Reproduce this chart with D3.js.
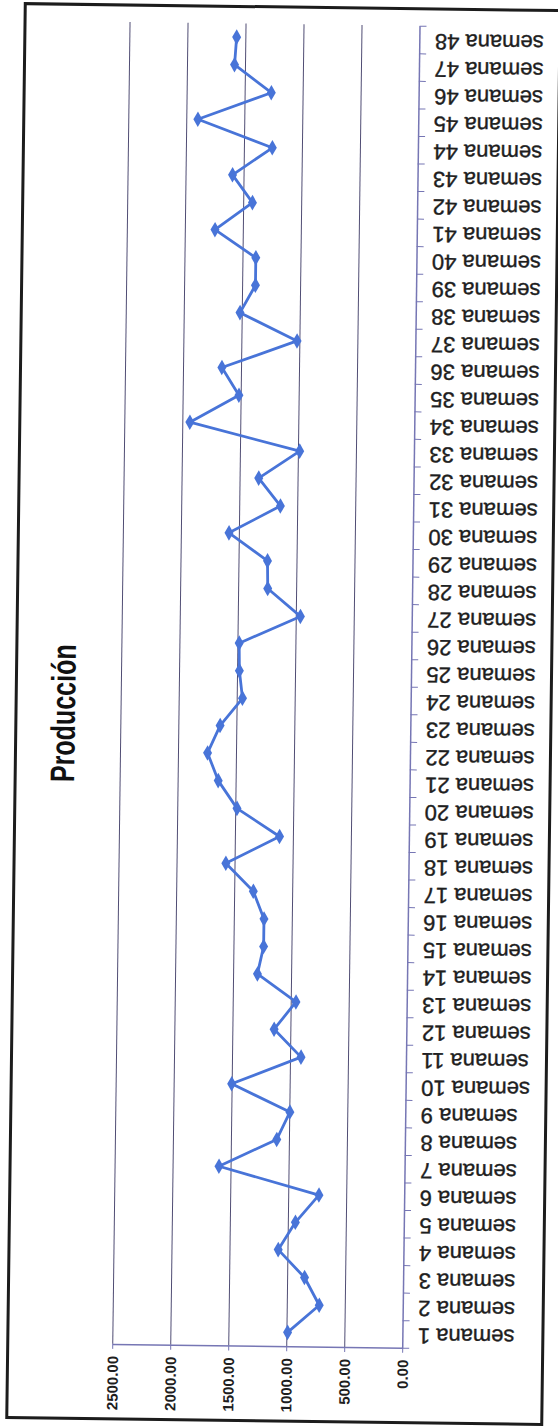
<!DOCTYPE html>
<html>
<head>
<meta charset="utf-8">
<script src="https://cdn.jsdelivr.net/npm/d3@7"></script>
<style>
  body { margin: 0; background: #fff; }
</style>
</head>
<body>
<div id="container"></div>
<script>
/* DATA */
const weeks = [
  "semana 1", "semana 2", "semana 3", "semana 4", "semana 5", "semana 6",
  "semana 7", "semana 8", "semana 9", "semana 10", "semana 11", "semana 12",
  "semana 13", "semana 14", "semana 15", "semana 16", "semana 17", "semana 18",
  "semana 19", "semana 20", "semana 21", "semana 22", "semana 23", "semana 24",
  "semana 25", "semana 26", "semana 27", "semana 28", "semana 29", "semana 30",
  "semana 31", "semana 32", "semana 33", "semana 34", "semana 35", "semana 36",
  "semana 37", "semana 38", "semana 39", "semana 40", "semana 41", "semana 42",
  "semana 43", "semana 44", "semana 45", "semana 46", "semana 47", "semana 48"
];
const production = [
  990, 720, 850, 1080, 935, 735, 1600, 1105, 995, 1500, 905, 1140,
  955, 1290, 1240, 1240, 1335, 1575, 1115, 1485, 1650, 1745, 1640, 1450,
  1480, 1485, 960, 1245, 1250, 1585, 1145, 1335, 985, 1935, 1515, 1665,
  1020, 1515, 1385, 1385, 1740, 1420, 1595, 1255, 1900, 1270, 1590, 1575
];
const valueTicks = [0, 500, 1000, 1500, 2000, 2500];
const title = "Producción";

/* LAYOUT (the scanned page is turned on its side) */
const W = 558, H = 1428;
const plot = { left: 120.5, right: 410.5, top: 24, bottom: 1346 };
const axisColor = "#7676b4";
const gridColor = "#504d74";

const svg = d3.select('#container')
  .append('svg')
  .attr('width', W)
  .attr('height', H)
  .style('background', '#fff');

// small skew of the scan
const page = svg.append('g')
  .attr('transform', 'rotate(0.75, 279, 714)');

// page frame
page.append('rect')
  .attr('x', 16).attr('y', 7)
  .attr('width', 535).attr('height', 1414)
  .attr('fill', 'none')
  .attr('stroke', '#1c1c1c')
  .attr('stroke-width', 3);

const x = d3.scaleLinear()
  .domain([0, 2500])
  .range([plot.right, plot.left]);

const y = d3.scaleBand()
  .domain(weeks)
  .range([plot.bottom, plot.top]);

// band edges for the category tick marks
const yEdge = d3.scaleLinear()
  .domain([0, weeks.length])
  .range([plot.bottom, plot.top]);

// gridlines
page.append('g')
  .attr('transform', `translate(0, ${plot.bottom})`)
  .call(d3.axisBottom(x)
    .tickValues(valueTicks.slice(1))
    .tickSize(-(plot.bottom - plot.top))
    .tickFormat(''))
  .call(g => g.select('.domain').remove())
  .selectAll('line')
  .attr('stroke', gridColor)
  .attr('stroke-width', 1);

// value axis
const xAxis = page.append('g')
  .attr('transform', `translate(0, ${plot.bottom})`)
  .call(d3.axisBottom(x)
    .tickValues(valueTicks)
    .tickSize(5)
    .tickSizeOuter(0)
    .tickFormat(d3.format('.2f')));
xAxis.select('.domain').attr('stroke', axisColor).attr('stroke-width', 1.5);
xAxis.selectAll('line').attr('stroke', axisColor);
xAxis.selectAll('text')
  .attr('transform', 'rotate(-90)')
  .attr('x', -12)
  .attr('y', 5.5)
  .attr('dy', null)
  .attr('text-anchor', 'end')
  .attr('fill', '#1e1e1e')
  .style('font', 'bold 15px "Liberation Sans", Arial, sans-serif');

// category axis line + ticks
const yTicks = page.append('g')
  .attr('transform', `translate(${plot.right}, 0)`)
  .call(d3.axisRight(yEdge)
    .tickValues(d3.range(0, weeks.length + 1))
    .tickSize(7)
    .tickSizeOuter(0)
    .tickFormat(''));
yTicks.select('.domain').attr('stroke', axisColor).attr('stroke-width', 1.5);
yTicks.selectAll('line').attr('stroke', axisColor);

// category labels (upside down on the scan)
const yAxis = page.append('g')
  .attr('transform', `translate(${plot.right}, 0)`)
  .call(d3.axisRight(y).tickSize(0).tickPadding(0));
yAxis.select('.domain').remove();
yAxis.selectAll('text')
  .attr('x', null)
  .attr('dy', null)
  .attr('text-anchor', 'end')
  .attr('transform', 'translate(15.5, -5.7) rotate(180)')
  .attr('fill', '#1e1e1e')
  .attr('stroke', '#1e1e1e')
  .attr('stroke-width', 0.4)
  .style('font', '22px "Liberation Sans", Arial, sans-serif');

// the series
const points = weeks.map((w, i) => ({ week: w, value: production[i] }));

const line = d3.line()
  .x(d => x(d.value))
  .y(d => y(d.week) + y.bandwidth() / 2);

page.append('path')
  .datum(points)
  .attr('d', line)
  .attr('fill', 'none')
  .attr('stroke', '#4874d8')
  .attr('stroke-width', 2.8)
  .attr('stroke-linejoin', 'round');

page.selectAll('path.marker')
  .data(points)
  .join('path')
  .attr('class', 'marker')
  .attr('d', d3.symbol(d3.symbolDiamond, 70))
  .attr('transform', d => `translate(${x(d.value)}, ${y(d.week) + y.bandwidth() / 2})`)
  .attr('fill', '#4874d8');

// chart title
page.append('text')
  .attr('transform', 'translate(75, 716) rotate(-90)')
  .attr('text-anchor', 'middle')
  .attr('textLength', 138)
  .attr('lengthAdjust', 'spacingAndGlyphs')
  .attr('fill', '#111')
  .style('font', 'bold 34px "Liberation Sans Narrow", "Liberation Sans", Arial, sans-serif')
  .text(title);
</script>
</body>
</html>
